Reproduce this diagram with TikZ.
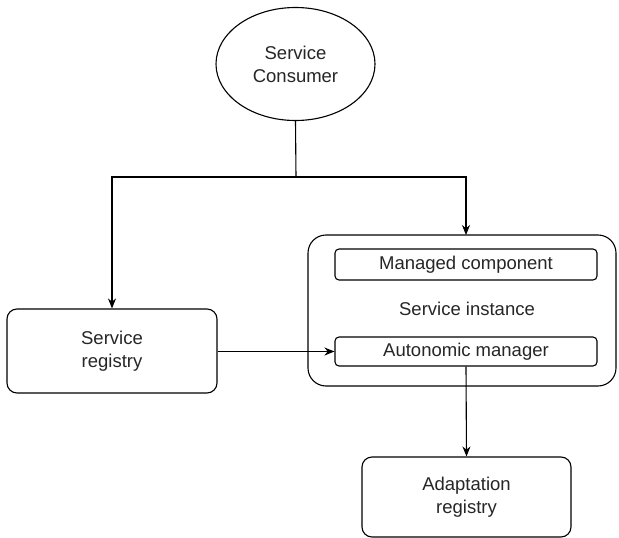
\documentclass[tikz,border=0pt]{standalone}
\usepackage{fontspec}
\setmainfont{Liberation Sans}
\usetikzlibrary{shapes.geometric,arrows.meta}
\begin{document}
\begin{tikzpicture}[x=1pt,y=-1pt,
  every node/.style={font=\fontsize{18.5}{23}\selectfont, text=black!85, align=center, inner sep=0pt},
  box/.style={draw, line width=1.1pt, rounded corners=10pt},
  inbox/.style={draw, line width=1.1pt, rounded corners=4pt},
  conn/.style={line width=1.1pt},
  arr/.style={conn, -{Stealth[length=10pt,width=8pt]}}]
\fill[white] (0,0) rectangle (619,538);
\useasboundingbox (0,0) rectangle (619,538);
\node[draw, ellipse, line width=1.1pt, minimum width=159pt, minimum height=113pt] (cons) at (295.5,64) {Service\\Consumer};
\node[box, minimum width=210pt, minimum height=84pt] (sreg) at (112,351) {Service\\registry};
\node[box, rounded corners=18pt, minimum width=308pt, minimum height=151pt] (sinst) at (462,310.5) {};
\node (sinstlabel) at (467,309) {Service instance};
\node[inbox, minimum width=262pt, minimum height=31pt] (mc) at (466,264.5) {Managed component};
\node[inbox, minimum width=262pt, minimum height=29pt] (am) at (466,351.5) {Autonomic manager};
\node[box, minimum width=209pt, minimum height=80pt] (ar) at (466.5,497) {Adaptation\\registry};
\coordinate (j) at (296,177);
\draw[conn] (cons.south) -- (j);
\draw[arr] (j) -| (sreg.north);
\draw[arr] (j) -| (466,235);
\draw[arr] (sreg.east |- am.west) -- (am.west);
\draw[arr] (am.south) -- (ar.north);
\end{tikzpicture}
\end{document}
